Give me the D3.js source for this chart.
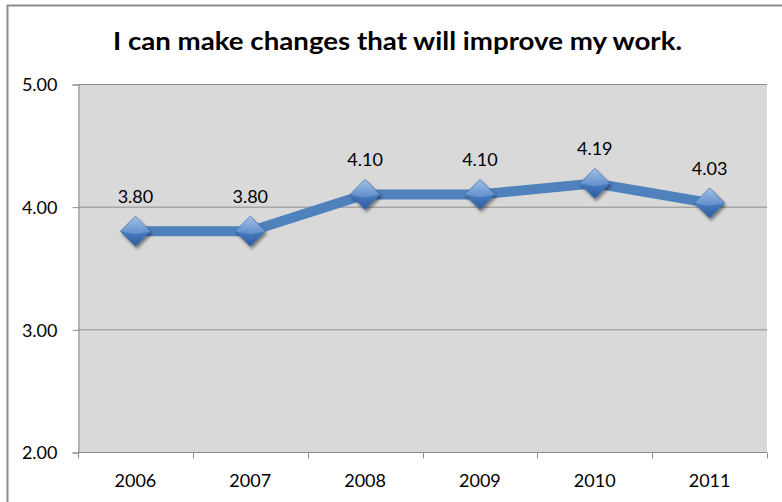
<!DOCTYPE html>
<html>
<head>
<meta charset="utf-8">
<script src="https://cdn.jsdelivr.net/npm/d3@7"></script>
<style>
  body { margin: 0; background: #fff; }
  text { font-family: Lato, "Open Sans", sans-serif; fill: #000; }
</style>
</head>
<body>
<svg id="chart" width="782" height="502"></svg>
<script>
const years = ["2006","2007","2008","2009","2010","2011"];
const scores = [3.80, 3.80, 4.10, 4.10, 4.19, 4.03];
const yTicks = [2, 3, 4, 5];
const title = "I can make changes that will improve my work.";

const svg = d3.select("#chart");
const plotL = 78, plotR = 767, plotT = 84, plotB = 452;

// outer chart border (right / bottom fall outside the picture)
svg.append("rect")
   .attr("x", 7.5).attr("y", 5.5)
   .attr("width", 800).attr("height", 520)
   .attr("fill", "white")
   .attr("stroke", "#8c8c8c")
   .attr("stroke-width", 2);

var x = d3.scaleBand().domain(years).range([plotL, plotR]);
var y = d3.scaleLinear().domain([2, 5]).range([plotB, plotT]);

var defs = svg.append("defs");
var grad = defs.append("linearGradient").attr("id", "dia")
               .attr("x1", 0).attr("y1", 0).attr("x2", 0).attr("y2", 1);
grad.append("stop").attr("offset", "0%").attr("stop-color", "#8db4e6");
grad.append("stop").attr("offset", "50%").attr("stop-color", "#4a7ec4");
grad.append("stop").attr("offset", "100%").attr("stop-color", "#2c5a9a");
var shadow = defs.append("filter").attr("id", "shadow")
                 .attr("x", "-50%").attr("y", "-50%").attr("width", "200%").attr("height", "200%");
shadow.append("feDropShadow").attr("dx", 1.5).attr("dy", 2.5)
      .attr("stdDeviation", 1.5).attr("flood-color", "#000").attr("flood-opacity", 0.45);

// plot area
svg.append("rect")
   .attr("x", plotL).attr("y", plotT)
   .attr("width", plotR - plotL).attr("height", plotB - plotT)
   .attr("fill", "#d9d9d9");

// gridlines
svg.append("g").selectAll("line")
   .data(yTicks.filter(function(d){ return d > 2; }))
   .join("line")
   .attr("x1", plotL).attr("x2", plotR)
   .attr("y1", function(d){ return y(d) + 0.5; })
   .attr("y2", function(d){ return y(d) + 0.5; })
   .attr("stroke", "#8c8c8c").attr("stroke-width", 1);

// y axis
var yAxis = svg.append("g")
   .attr("transform", "translate(" + (plotL + 0.5) + ",0.5)")
   .call(d3.axisLeft(y).tickValues(yTicks).tickFormat(d3.format(".2f"))
           .tickSize(6).tickPadding(15));
yAxis.attr("font-family", null).attr("font-size", null);
yAxis.select(".domain").attr("stroke", "#8c8c8c");
yAxis.selectAll(".tick line").attr("stroke", "#8c8c8c");
yAxis.selectAll(".tick text").style("font-size", "18px").attr("dy", "0.36em");

// x axis with ticks at band edges
var xAxis = svg.append("g")
   .attr("transform", "translate(0," + (plotB + 0.5) + ")");
xAxis.append("line")
   .attr("x1", plotL).attr("x2", plotR)
   .attr("stroke", "#8c8c8c");
xAxis.selectAll(".edge")
   .data(years.concat([null]))
   .join("line")
   .attr("class", "edge")
   .attr("x1", function(d, i){ return Math.round(plotL + i * x.step()) + 0.5; })
   .attr("x2", function(d, i){ return Math.round(plotL + i * x.step()) + 0.5; })
   .attr("y1", 0).attr("y2", 6)
   .attr("stroke", "#8c8c8c");
xAxis.selectAll(".lab")
   .data(years)
   .join("text")
   .attr("class", "lab")
   .attr("x", function(d){ return x(d) + x.bandwidth() / 2; })
   .attr("y", 34)
   .attr("text-anchor", "middle")
   .style("font-size", "18px")
   .text(function(d){ return d; });

// line
var pts = years.map(function(d, i){ return [x(d) + x.bandwidth() / 2, y(scores[i])]; });
svg.append("path")
   .attr("d", d3.line()(pts))
   .attr("fill", "none")
   .attr("stroke", "#4f81bd")
   .attr("stroke-width", 10)
   .attr("stroke-linejoin", "round");

// markers
var mk = svg.append("g").selectAll("g")
   .data(pts)
   .join("g")
   .attr("transform", function(d){ return "translate(" + d[0] + "," + d[1] + ")"; })
   .attr("filter", "url(#shadow)");
mk.append("path")
  .attr("d", "M0,-15 L15,0 L0,15 L-15,0 Z")
  .attr("fill", "url(#dia)")
  .attr("stroke", "#3a6aa8").attr("stroke-width", 0.8);
mk.append("path")
  .attr("d", "M-15,0 L0,-15 L15,0 L0,3 Z")
  .attr("fill", "#ffffff").attr("opacity", 0.18);

// data labels
svg.append("g").selectAll("text")
   .data(pts)
   .join("text")
   .attr("x", function(d){ return d[0]; })
   .attr("y", function(d){ return d[1] - 28; })
   .attr("text-anchor", "middle")
   .style("font-size", "18px")
   .text(function(d, i){ return scores[i].toFixed(2); });

// title
svg.append("text")
   .attr("x", 397.5).attr("y", 50)
   .attr("text-anchor", "middle")
   .attr("textLength", 569)
   .attr("lengthAdjust", "spacingAndGlyphs")
   .style("font-size", "25px")
   .style("font-weight", "bold")
   .text(title);
</script>
</body>
</html>
